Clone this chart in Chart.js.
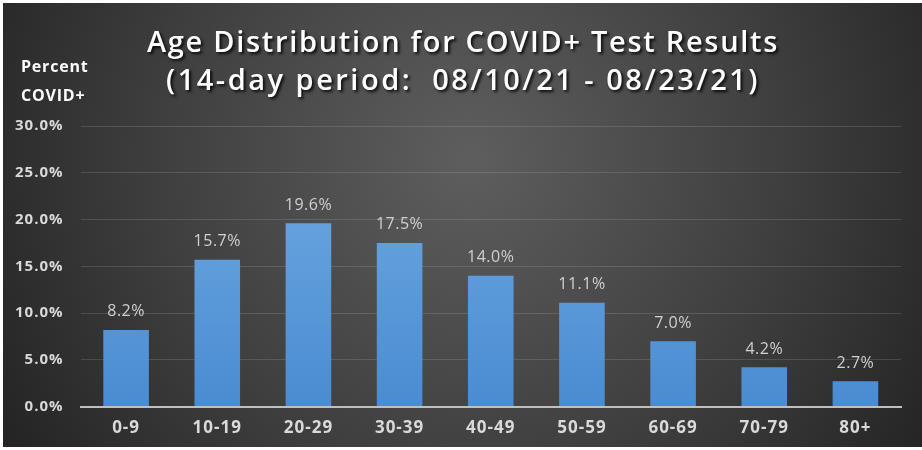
<!DOCTYPE html>
<html>
<head>
<meta charset="utf-8">
<script src="https://cdn.jsdelivr.net/npm/chart.js@4.4.0/dist/chart.umd.min.js"></script>
<style>
  html, body { margin: 0; padding: 0; background: #ffffff; }
  #wrap { width: 922px; height: 450px; }
</style>
</head>
<body>
<div id="wrap"><canvas id="ageChart" width="922" height="450"></canvas></div>
<script>
const ageGroups = ['0-9', '10-19', '20-29', '30-39', '40-49', '50-59', '60-69', '70-79', '80+'];
const percentPositive = [8.2, 15.7, 19.6, 17.5, 14.0, 11.1, 7.0, 4.2, 2.7];
const titleLines = ['Age Distribution for COVID+ Test Results', '(14-day period:  08/10/21 - 08/23/21)'];
const axisLabel = ['Percent', 'COVID+'];

const FONT = '"Open Sans", Lato, sans-serif';

// the original uses a wide, spaced font; widen the canvas text a little
const spacingPlugin = {
    id: 'spacing',
    beforeUpdate(chart) { chart.ctx.letterSpacing = '1px'; },
    beforeDraw(chart) { chart.ctx.letterSpacing = '1px'; }
};

// dark radial background with a thin white frame
const backgroundPlugin = {
    id: 'bg',
    beforeDraw(chart) {
        const c = chart.ctx;
        c.save();
        c.fillStyle = '#ffffff';
        c.fillRect(0, 0, chart.width, chart.height);
        const g = c.createRadialGradient(470, 160, 0, 470, 160, 560);
        g.addColorStop(0, '#5e5e5e');
        g.addColorStop(0.55, '#3f3f3f');
        g.addColorStop(1, '#222222');
        c.fillStyle = g;
        c.fillRect(3, 3, chart.width - 3, chart.height - 6);
        c.restore();
    }
};

// titles, axis caption and value labels
const textPlugin = {
    id: 'texts',
    afterDraw(chart) {
        const c = chart.ctx;
        c.save();
        c.textAlign = 'center';
        c.textBaseline = 'middle';
        c.font = '600 29px ' + FONT;
        c.shadowColor = 'rgba(0,0,0,0.85)';
        c.shadowOffsetX = 2;
        c.shadowOffsetY = 2;
        c.shadowBlur = 3;
        c.fillStyle = '#ffffff';
        c.letterSpacing = '1.7px';
        c.fillText(titleLines[0], 463, 44);
        c.letterSpacing = '2.5px';
        c.fillText(titleLines[1], 463, 82);
        c.shadowColor = 'transparent';

        c.letterSpacing = '0.8px';
        c.font = 'bold 16px ' + FONT;
        c.textAlign = 'left';
        c.fillText(axisLabel[0], 21, 67);
        c.fillText(axisLabel[1], 21, 96);

        c.letterSpacing = '0.5px';
        c.font = '16px ' + FONT;
        c.textAlign = 'center';
        c.fillStyle = '#d0d0d0';
        const meta = chart.getDatasetMeta(0);
        meta.data.forEach((bar, i) => {
            c.fillText(percentPositive[i].toFixed(1) + '%', bar.x, bar.y - 18);
        });
        c.restore();
    }
};

const ctx = document.getElementById('ageChart').getContext('2d');

new Chart(ctx, {
    type: 'bar',
    data: {
        labels: ageGroups,
        datasets: [{
            data: percentPositive,
            backgroundColor: (context) => {
                const area = context.chart.chartArea;
                if (!area) return '#5b9bd5';
                const g = context.chart.ctx.createLinearGradient(0, area.top, 0, area.bottom);
                g.addColorStop(0, '#72ace2');
                g.addColorStop(1, '#4a8cd2');
                return g;
            },
            borderWidth: 0,
            barPercentage: 0.5,
            categoryPercentage: 1.0
        }]
    },
    options: {
        responsive: false,
        animation: false,
        layout: {
            padding: { top: 126, left: -2, right: 21, bottom: 1 }
        },
        plugins: {
            legend: { display: false },
            tooltip: { enabled: false }
        },
        scales: {
            x: {
                grid: { display: false, drawTicks: false },
                border: { color: '#bfbfbf', width: 2 },
                ticks: {
                    color: '#d9d9d9',
                    font: { family: FONT, size: 17, weight: 'bold' },
                    padding: 11
                }
            },
            y: {
                min: 0,
                max: 30,
                grid: { color: 'rgba(255,255,255,0.13)', drawTicks: false, lineWidth: 1 },
                border: { display: false },
                ticks: {
                    stepSize: 5,
                    color: '#d9d9d9',
                    font: { family: FONT, size: 15, weight: 'bold' },
                    padding: 17,
                    callback: (v) => v.toFixed(1) + '%'
                }
            }
        }
    },
    plugins: [spacingPlugin, backgroundPlugin, textPlugin]
});
</script>
</body>
</html>
